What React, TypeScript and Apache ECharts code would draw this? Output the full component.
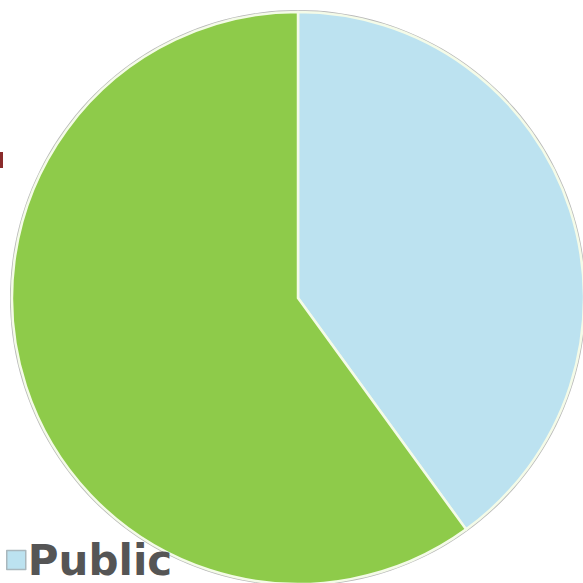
import React, { useEffect, useRef } from "react";
import * as echarts from "echarts";

const categories = ["Public", "Private"];
const values = [40, 60];
const legendItems = ["Public"];
const colors = ["#bce2f0", "#8ecb4a"];

export default function App() {
  const ref = useRef<HTMLDivElement>(null);
  useEffect(() => {
    if (!ref.current) return;
    const chart = echarts.init(ref.current, undefined, { renderer: "svg" });
    chart.setOption({
      animation: false,
      legend: {
        data: legendItems,
        left: 6,
        top: 539,
        padding: 0,
        icon: "rect",
        itemWidth: 19,
        itemHeight: 19,
        itemGap: 10,
        selectedMode: false,
        itemStyle: { borderColor: "#a9b7bd", borderWidth: 1.5 },
        textStyle: {
          fontFamily: "DejaVu Sans",
          fontWeight: "bold",
          fontSize: 42,
          lineHeight: 30,
          color: "#555555",
          padding: [0, 0, 0, -3],
        },
      },
      series: [
        {
          type: "pie",
          silent: true,
          center: [298, 298],
          radius: [285, 288],
          label: { show: false },
          labelLine: { show: false },
          itemStyle: { color: "#b9b9b9" },
          data: [{ name: "outline", value: 1 }],
          z: 1,
        },
        {
          type: "pie",
          center: [298, 298],
          radius: [0, 286],
          startAngle: 90,
          clockwise: true,
          label: { show: false },
          labelLine: { show: false },
          itemStyle: { borderColor: "#f4fbe8", borderWidth: 2.5 },
          data: categories.map((c, i) => ({
            name: c,
            value: values[i],
            itemStyle: { color: colors[i] },
          })),
          z: 2,
        },
      ],
      graphic: [
        {
          type: "rect",
          left: 0,
          top: 152,
          shape: { width: 3, height: 16 },
          style: { fill: "#8a2b2b" },
        },
      ],
    });
    return () => chart.dispose();
  }, []);
  return <div ref={ref} style={{ width: 583, height: 583, position: "absolute", left: 0, top: 0 }} />;
}
